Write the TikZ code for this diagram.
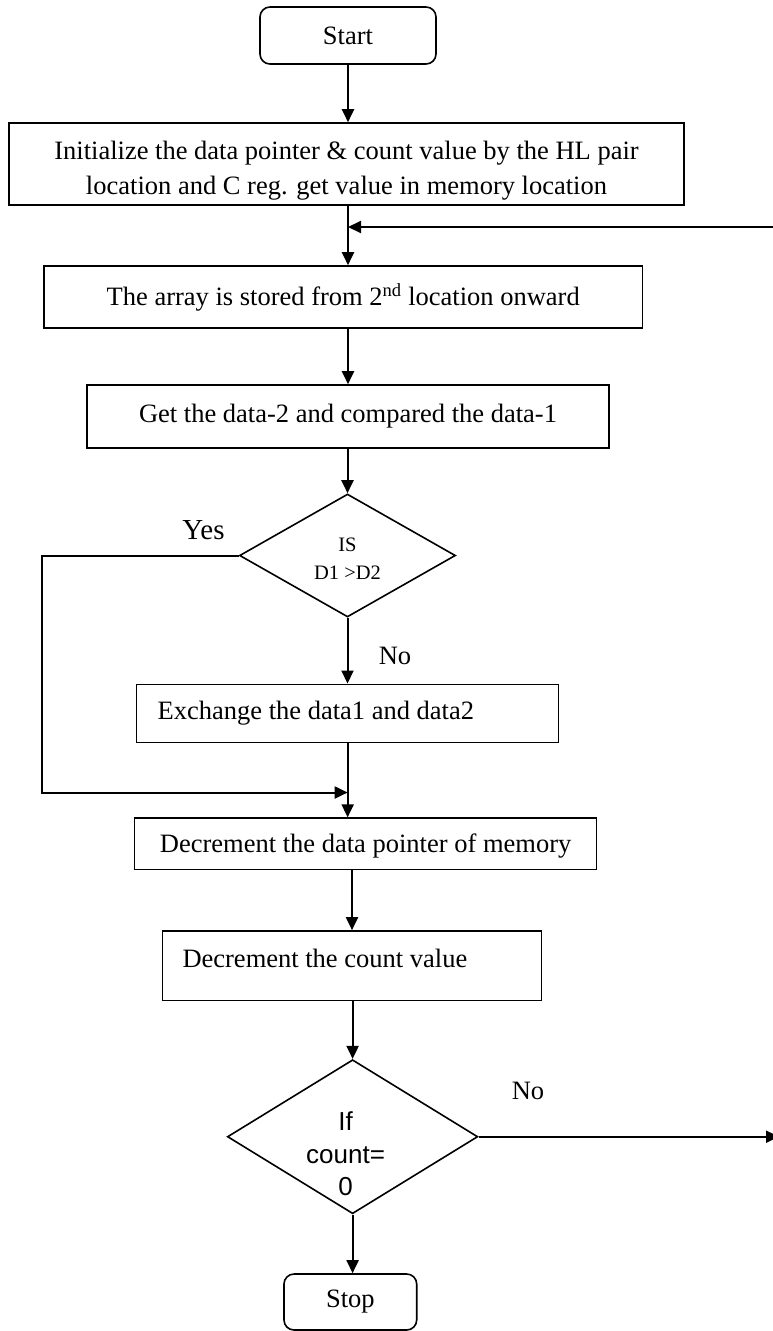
\documentclass[tikz,border=0pt]{standalone}
\usepackage{fontspec}
\setmainfont{Liberation Serif}
\newfontfamily\arialfont{Liberation Sans}
\usetikzlibrary{shapes.geometric,arrows.meta}
\begin{document}
\begin{tikzpicture}[x=1pt,y=-1pt,
  every node/.style={font=\fontsize{26.5}{33}\selectfont},
  box/.style={draw,line width=1.6pt,rectangle,inner sep=0pt,align=center},
  term/.style={box,rounded corners=10pt},
  dec/.style={draw,line width=1.6pt,diamond,inner sep=0pt,align=center},
  txt/.style={inner sep=0pt,align=center},
  flow/.style={line width=2pt,-{Triangle[length=13pt,width=12pt]}},
  lbl/.style={inner sep=0pt}]
\useasboundingbox (0,0) rectangle (773,1331);

\node[term,minimum width=176pt,minimum height=57pt] (start) at (348,35.5) {Start};
\node[box,minimum width=675pt,minimum height=82pt,
  label={[txt,name=initt,font=\fontsize{26.5}{34.7}\selectfont,yshift=-6.5pt]center:{Initialize the data pointer \& count value by the HL pair\\location and C reg. get value in memory location}}]
  (init) at (346.5,164) {};
\node[box,minimum width=598.5pt,minimum height=62pt] (arr) at (343.25,297)
  {The array is stored from 2\textsuperscript{nd} location onward};
\node[box,minimum width=522pt,minimum height=63pt] (get) at (348,416.5)
  {Get the data-2 and compared the data-1};
\node[dec,minimum width=216pt,minimum height=123pt,
  label={[txt,name=d1t,font=\fontsize{20.5}{27.6}\selectfont,yshift=-3.2pt]center:{IS\\D1 >D2}}]
  (d1) at (347.5,555.5) {};
\node[box,minimum width=422pt,minimum height=58pt,text width=380pt,align=flush left] (exch) at (347.65,713.3)
  {Exchange the data1 and data2};
\node[box,minimum width=462pt,minimum height=51.3pt,text height=23.5pt,text depth=5.75pt] (dp) at (365.6,843.8)
  {Decrement the data pointer of memory};
\node[box,minimum width=378.7pt,minimum height=69.7pt,text width=339pt,align=flush left] (dc) at (352,965.8)
  {\raisebox{7pt}[\height][\depth]{Decrement the count value}};
\node[dec,minimum width=250.4pt,minimum height=154pt,
  label={[txt,name=d2t,font=\arialfont\fontsize{26}{32.5}\selectfont,xshift=-7pt,yshift=-17.5pt]center:{If\\count=\\0}}]
  (d2) at (352.6,1136.7) {};
\node[term,minimum width=132.7pt,minimum height=56pt] (stop) at (350.35,1302) {Stop};

\node[lbl,font=\fontsize{29}{33}\selectfont] (yes) at (203.5,530.5) {Yes};
\node[lbl] (no1) at (395,656) {No};
\node[lbl] (no2) at (528,1091) {No};

\coordinate (fb) at (775,227);
\coordinate (yc) at (42,792.5);
\coordinate (nout) at (779,1136.7);

\draw[flow] (start.south) -- (start.south |- init.north);
\draw[flow] (start.south |- init.south) -- (start.south |- arr.north);
\draw[flow] (fb) -- (fb -| start.south);
\draw[flow] (get.north |- arr.south) -- (get.north);
\draw[flow] (d1.north |- get.south) -- (d1.north);
\draw[flow] (d1.south) -- (d1.south |- exch.north);
\draw[flow] (d1.west) -| (yc) -- (yc -| exch.south);
\draw[flow] (exch.south) -- (exch.south |- dp.north);
\draw[flow] (dc.north |- dp.south) -- (dc.north);
\draw[flow] (d2.north |- dc.south) -- (d2.north);
\draw[flow] (d2.east) -- (nout);
\draw[flow] (d2.south) -- (d2.south |- stop.north);
\end{tikzpicture}
\end{document}
